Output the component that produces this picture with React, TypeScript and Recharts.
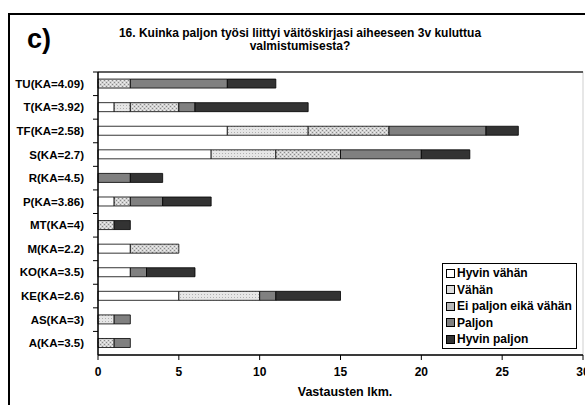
import { BarChart, Bar, XAxis, YAxis } from 'recharts'

const categories = [
  'TU(KA=4.09)',
  'T(KA=3.92)',
  'TF(KA=2.58)',
  'S(KA=2.7)',
  'R(KA=4.5)',
  'P(KA=3.86)',
  'MT(KA=4)',
  'M(KA=2.2)',
  'KO(KA=3.5)',
  'KE(KA=2.6)',
  'AS(KA=3)',
  'A(KA=3.5)',
]
const hyvinVahan = [0, 1, 8, 7, 0, 1, 0, 2, 2, 5, 0, 0]
const vahan = [0, 1, 5, 4, 0, 0, 0, 0, 0, 5, 1, 0]
const eiPaljon = [2, 3, 5, 4, 0, 1, 1, 3, 0, 0, 0, 1]
const paljon = [6, 1, 6, 5, 2, 2, 0, 0, 1, 1, 1, 1]
const hyvinPaljon = [3, 7, 2, 3, 2, 3, 1, 0, 3, 4, 0, 0]
const xTicks = [0, 5, 10, 15, 20, 25, 30]

const data = categories.map((name, i) => ({
  name,
  hv: hyvinVahan[i],
  v: vahan[i],
  ep: eiPaljon[i],
  p: paljon[i],
  hp: hyvinPaljon[i],
}))

const series = [
  { key: 'hv', label: 'Hyvin vähän', fill: '#ffffff' },
  { key: 'v', label: 'Vähän', fill: 'url(#patVahan)' },
  { key: 'ep', label: 'Ei paljon eikä vähän', fill: 'url(#patEi)' },
  { key: 'p', label: 'Paljon', fill: '#808080' },
  { key: 'hp', label: 'Hyvin paljon', fill: '#333333' },
]
const swatch: Record<string, string> = {
  hv: '#ffffff',
  v: '#dcdcdc',
  ep: '#b8b8b8',
  p: '#808080',
  hp: '#333333',
}

const font = '"Liberation Sans", Arial, sans-serif'
const TOP = 72
const BOTTOM = 355
const band = (BOTTOM - TOP) / categories.length

const YTick = (props: any) => {
  const { x, y, payload } = props
  return (
    <g>
      <line x1={98} x2={93} y1={y - band / 2} y2={y - band / 2} stroke="#000" strokeWidth={1} />
      <text x={x - 6} y={y} dy={4} textAnchor="end" fontSize={11.5} fontWeight="bold" fontFamily={font} fill="#000">
        {payload.value}
      </text>
    </g>
  )
}

const LegendBox = () => (
  <div
    style={{
      position: 'absolute',
      left: 442,
      top: 263,
      border: '1px solid #000',
      background: '#fff',
      width: 135,
      height: 86,
      padding: '1px 0 0 3px',
      fontFamily: font,
      fontWeight: 'bold',
      fontSize: 12,
      boxSizing: 'border-box',
      whiteSpace: 'nowrap',
    }}
  >
    {series.map((s) => (
      <div key={s.key} style={{ display: 'flex', alignItems: 'center', height: 16.5 }}>
        <div
          style={{
            width: 7,
            height: 7,
            border: '1px solid #000',
            background: swatch[s.key],
            marginRight: 2,
          }}
        />
        <span>{s.label}</span>
      </div>
    ))}
  </div>
)

export default function App() {
  return (
    <div style={{ position: 'absolute', left: 0, top: 0, width: 585, height: 405, background: '#fff', overflow: 'hidden' }}>
      <div
        style={{
          position: 'absolute',
          left: 8,
          top: 13,
          width: 600,
          height: 420,
          borderLeft: '2px solid #000',
          borderTop: '2px solid #000',
        }}
      />
      <div
        style={{
          position: 'absolute',
          left: 27,
          top: 24,
          fontFamily: font,
          fontWeight: 'bold',
          fontSize: 27,
        }}
      >
        c)
      </div>
      <div
        style={{
          position: 'absolute',
          left: 100,
          top: 27,
          width: 400,
          textAlign: 'center',
          fontFamily: font,
          fontWeight: 'bold',
          fontSize: 12,
          lineHeight: '13px',
        }}
      >
        16. Kuinka paljon työsi liittyi väitöskirjasi aiheeseen 3v kuluttua
        <br />
        valmistumisesta?
      </div>
      <div style={{ position: 'absolute', left: 0, top: 0 }}>
        <BarChart
          layout="vertical"
          width={585}
          height={405}
          data={data}
          margin={{ top: TOP, right: 2, bottom: 405 - BOTTOM - 28, left: 0 }}
          barCategoryGap="30%"
        >
          <defs>
            <pattern id="patVahan" width="3" height="3" patternUnits="userSpaceOnUse">
              <rect width="3" height="3" fill="#e6e6e6" />
              <rect x="0" y="0" width="1" height="1" fill="#b0b0b0" />
            </pattern>
            <pattern id="patEi" width="4" height="4" patternUnits="userSpaceOnUse">
              <rect width="4" height="4" fill="#d2d2d2" />
              <rect x="0" y="0" width="1" height="1" fill="#8a8a8a" />
              <rect x="2" y="2" width="1" height="1" fill="#8a8a8a" />
              <rect x="2" y="0" width="1" height="1" fill="#f0f0f0" />
              <rect x="0" y="2" width="1" height="1" fill="#f0f0f0" />
            </pattern>
          </defs>
          <rect x={98} y={TOP} width={485} height={BOTTOM - TOP} fill="none" stroke="#cfcfcf" />
          <line x1={98} x2={583} y1={TOP} y2={TOP} stroke="#333" strokeWidth={1.5} />
          <XAxis
            type="number"
            domain={[0, 30]}
            ticks={xTicks}
            interval={0}
            height={28}
            axisLine={{ stroke: '#000', strokeWidth: 1.5 }}
            tickLine={{ stroke: '#000' }}
            tickSize={5}
            tick={{ fontSize: 12, fontWeight: 'bold', fontFamily: font, fill: '#000', dy: 5 }}
          />
          <YAxis
            type="category"
            dataKey="name"
            width={98}
            axisLine={{ stroke: '#000', strokeWidth: 1.5 }}
            tickLine={false}
            tick={<YTick />}
            interval={0}
          />
          {series.map((s) => (
            <Bar
              key={s.key}
              dataKey={s.key}
              name={s.label}
              stackId="a"
              fill={s.fill}
              stroke="#000"
              strokeWidth={0.8}
              isAnimationActive={false}
            />
          ))}
        </BarChart>
      </div>
      <LegendBox />
      <div
        style={{
          position: 'absolute',
          left: 245,
          top: 385,
          width: 200,
          textAlign: 'center',
          fontFamily: font,
          fontWeight: 'bold',
          fontSize: 12.5,
        }}
      >
        Vastausten lkm.
      </div>
    </div>
  )
}
